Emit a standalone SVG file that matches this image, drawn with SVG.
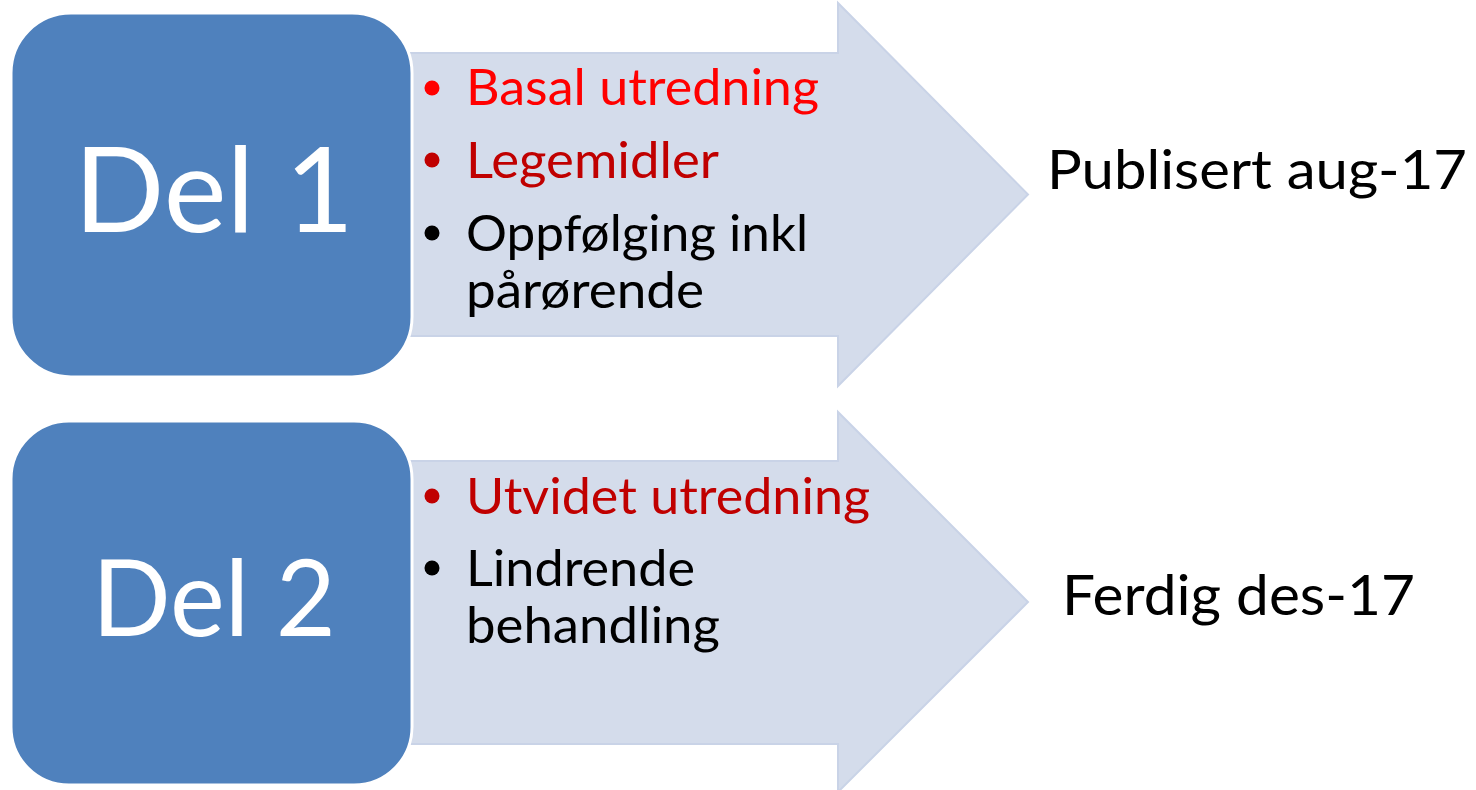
<svg xmlns="http://www.w3.org/2000/svg" width="1476" height="790" viewBox="0 0 1476 790">
  <style>
    .arrow { fill: #D4DCEB; stroke: #C9D3E7; stroke-width: 2; stroke-linejoin: miter; }
    .box { fill: #4F81BD; stroke: #FFFFFF; stroke-width: 3; }
    .del { font-family: Lato, "Open Sans", sans-serif; fill: #FFFFFF; }
    .item { font-family: Lato, "Open Sans", sans-serif; font-size: 50px; }
    .date { font-family: Lato, "Open Sans", sans-serif; fill: #000000; }
    .red { fill: #FF0000; }
    .dark { fill: #C00000; }
    .black { fill: #000000; }
  </style>

  <!-- Connectors: block arrows running from each part to its status -->
  <g id="connectors">
    <path class="arrow" d="M398 53 H838 V3 L1028 194.5 L838 386 V336 H398 Z"/>
    <path class="arrow" d="M398 461 H838 V412 L1028 602 L838 792 V744 H398 Z"/>
  </g>

  <!-- Part 1 -->
  <g id="del1">
    <rect class="box" x="11" y="13" width="401" height="364" rx="60" ry="60"/>
    <text class="del" x="74" y="232" font-size="118" textLength="280" lengthAdjust="spacingAndGlyphs">Del 1</text>
  </g>

  <g id="del1-items">
    <circle class="red" cx="432" cy="88" r="7.5"/>
    <text class="item red" x="466" y="105" textLength="353" lengthAdjust="spacingAndGlyphs">Basal utredning</text>
    <circle class="dark" cx="432" cy="160" r="7.5"/>
    <text class="item dark" x="466" y="178" textLength="253" lengthAdjust="spacingAndGlyphs">Legemidler</text>
    <circle class="black" cx="432" cy="233" r="7.5"/>
    <text class="item black" x="466" y="251" textLength="342" lengthAdjust="spacingAndGlyphs">Oppfølging inkl</text>
    <text class="item black" x="466" y="308" textLength="238" lengthAdjust="spacingAndGlyphs">pårørende</text>
  </g>

  <g id="status1">
    <text class="date" x="1047" y="189" font-size="55" textLength="420" lengthAdjust="spacingAndGlyphs">Publisert aug-17</text>
  </g>

  <!-- Part 2 -->
  <g id="del2">
    <rect class="box" x="11" y="421" width="401" height="364" rx="58" ry="58"/>
    <text class="del" x="92" y="636" font-size="107" textLength="244" lengthAdjust="spacingAndGlyphs">Del 2</text>
  </g>

  <g id="del2-items">
    <circle class="dark" cx="432" cy="496" r="7.5"/>
    <text class="item dark" x="466" y="514" textLength="404" lengthAdjust="spacingAndGlyphs">Utvidet utredning</text>
    <circle class="black" cx="432" cy="568" r="7.5"/>
    <text class="item black" x="466" y="586" textLength="229" lengthAdjust="spacingAndGlyphs">Lindrende</text>
    <text class="item black" x="466" y="643" textLength="254" lengthAdjust="spacingAndGlyphs">behandling</text>
  </g>

  <g id="status2">
    <text class="date" x="1062" y="615" font-size="56" textLength="353" lengthAdjust="spacingAndGlyphs">Ferdig des-17</text>
  </g>
</svg>
